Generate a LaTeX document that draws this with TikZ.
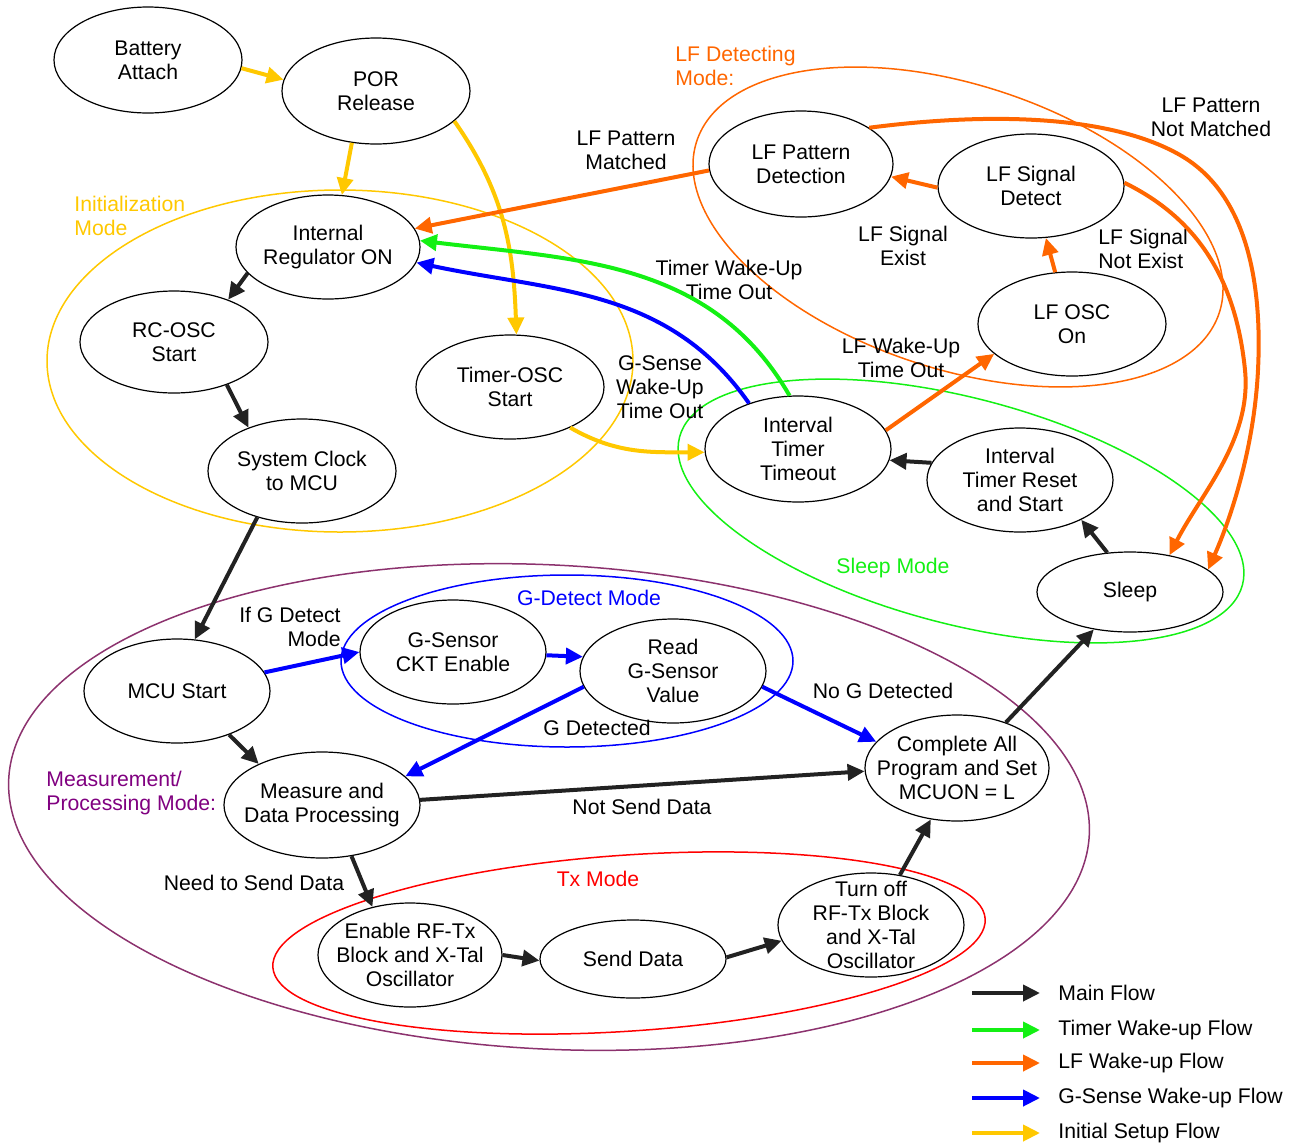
\documentclass[tikz,border=0pt]{standalone}
\usepackage{fontspec}
\setmainfont{Liberation Sans}
\usetikzlibrary{arrows.meta,shapes.geometric}
\definecolor{cY}{RGB}{255,200,0}
\definecolor{cO}{RGB}{255,102,0}
\definecolor{cG}{RGB}{20,240,20}
\definecolor{cB}{RGB}{0,0,255}
\definecolor{cK}{RGB}{34,34,34}
\definecolor{cP}{RGB}{140,50,110}
\definecolor{cPt}{RGB}{128,0,128}
\definecolor{cR}{RGB}{255,0,0}
\begin{document}
\begin{tikzpicture}[x=0.5pt,y=-0.5pt,
  font=\fontsize{10.6}{12}\selectfont,
  st/.style 2 args={draw=black, line width=0.6pt, ellipse, minimum width=#1pt, minimum height=#2pt, inner sep=0pt},
  lb/.style={align=center, inner sep=0pt},
  tl/.style={align=center, inner sep=0pt},
  region/.style={line width=0.75pt},
  ar/.style={line width=2pt, -{Triangle[length=8.5pt,width=8pt]}},
  kar/.style={ar, draw=cK},
  yar/.style={ar, draw=cY},
  oar/.style={ar, draw=cO},
  gar/.style={ar, draw=cG},
  bar/.style={ar, draw=cB}]
\useasboundingbox (0,0) rectangle (1297,1147);

% region ellipses
\draw[region, cY] (340,361) ellipse [x radius=293, y radius=171];
\draw[region, cO, rotate around={-18.2:(958,227)}] (958,227) ellipse [x radius=275, y radius=142];
\draw[region, cG, rotate around={-14.7:(961,511)}] (961,511) ellipse [x radius=291, y radius=113];
\draw[region, cP, rotate around={-3:(549,807)}] (549,807) ellipse [x radius=541, y radius=242];
\draw[region, cB] (567,661) ellipse [x radius=226, y radius=86];
\draw[region, cR, rotate around={3.9:(629,943)}] (629,943) ellipse [x radius=357, y radius=88];

% region labels
\node[tl, cY, align=left, anchor=west] (tinit) at (74,216) {Initialization\\Mode};
\node[tl, cO, align=left, anchor=west] (tlfd) at (675,66) {LF Detecting\\Mode:};
\node[tl, cG] (tsleep) at (893,568) {Sleep Mode};
\node[tl, cB] (tgdet) at (589,598) {G-Detect Mode};
\node[tl, cPt, align=left, anchor=west] (tmeas) at (46,793) {Measurement/\\Processing Mode:};
\node[tl, cR] (ttx) at (598,879) {Tx Mode};

% states
\node[st={94}{53}, label={[lb]center:Battery\\Attach}] (bat) at (148,60) {};
\node[st={94}{53}, label={[lb]center:POR\\Release}] (por) at (376,91) {};
\node[st={92}{52}, label={[lb]center:Internal\\Regulator ON}] (reg) at (328,247) {};
\node[st={94}{51}, label={[lb]center:RC-OSC\\Start}] (rc) at (174,342) {};
\node[st={94}{52}, label={[lb]center:System Clock\\to MCU}] (sys) at (302,471) {};
\node[st={94}{52}, label={[lb]center:Timer-OSC\\Start}] (tosc) at (510,387) {};
\node[st={92}{53}, label={[lb]center:LF Pattern\\Detection}] (lfp) at (801,164) {};
\node[st={93}{52}, label={[lb]center:LF Signal\\Detect}] (lfs) at (1031,186) {};
\node[st={94}{52}, label={[lb]center:LF OSC\\On}] (osc) at (1072,324) {};
\node[st={93}{53}, label={[lb]center:Interval\\Timer\\Timeout}] (itt) at (798,449) {};
\node[st={93}{52}, label={[lb]center:Interval\\Timer Reset\\and Start}] (itr) at (1020,480) {};
\node[st={93}{40}, label={[lb]center:Sleep}] (slp) at (1130,592) {};
\node[st={93}{52}, label={[lb]center:MCU Start}] (mcu) at (177,691) {};
\node[st={93}{52}, label={[lb]center:G-Sensor\\CKT Enable}] (gs) at (453,652) {};
\node[st={93}{52}, label={[lb]center:Read\\G-Sensor\\Value}] (rd) at (673,671) {};
\node[st={98}{53}, label={[lb]center:Measure and\\Data Processing}] (meas) at (322,805) {};
\node[st={92}{53}, label={[lb]center:Complete All\\Program and Set\\MCUON = L}] (comp) at (957,768) {};
\node[st={92}{52}, label={[lb]center:Enable RF-Tx\\Block and X-Tal\\Oscillator}] (en) at (410,955) {};
\node[st={93}{39}, label={[lb]center:Send Data}] (send) at (633,959) {};
\node[st={93}{52}, label={[lb]center:Turn off\\RF-Tx Block\\and X-Tal\\Oscillator}] (toff) at (871,925) {};

% edge labels
\node[tl] (e1) at (626,150) {LF Pattern\\Matched};
\node[tl] (e2) at (1211,117) {LF Pattern\\Not Matched};
\node[tl] (e3) at (903,246) {LF Signal\\Exist};
\node[tl, align=left, anchor=west] (e4) at (1098,249) {LF Signal\\Not Exist};
\node[tl] (e5) at (729,280) {Timer Wake-Up\\Time Out};
\node[tl] (e6) at (901,358) {LF Wake-Up\\Time Out};
\node[tl] (e7) at (660,387) {G-Sense\\Wake-Up\\Time Out};
\node[tl, align=right, anchor=east] (e8) at (341,627) {If G Detect\\Mode};
\node[tl] (e9) at (883,691) {No G Detected};
\node[tl] (e10) at (597,728) {G Detected};
\node[tl] (e11) at (642,807) {Not Send Data};
\node[tl] (e12) at (254,883) {Need to Send Data};

% yellow
\draw[yar] (bat.-5) -- (por.173);
\draw[yar] (por.-115) -- (reg.75);
\draw[yar] (por.-21) to[out=-55,in=92] (tosc.83);
\draw[yar] (tosc.-34) to[out=-30,in=180] (itt.182);

% orange
\draw[oar] (lfp.184) -- (reg.12);
\draw[oar] (lfs.181) -- (lfp.-8);
\draw[oar] (osc.108) -- (lfs.-74);
\draw[oar] (itt.12) -- (osc.201);
\draw[oar] (lfp.28) .. controls (990,112) and (1110,115) .. (1180,155)
  .. controls (1250,195) and (1262,290) .. (1258,370)
  .. controls (1254,450) and (1230,520) .. (slp.16);
\draw[oar] (lfs.2) .. controls (1190,215) and (1235,270) .. (1245,370)
  .. controls (1252,440) and (1200,495) .. (slp.43);

% green / blue wake-up
\draw[gar] (itt.99) to[out=120,in=-7] (reg.4);
\draw[bar] (itt.137) to[out=125,in=-12] (reg.-10);

% blue g-sense
\draw[bar] (mcu.12) -- (gs.180);
\draw[bar] (gs.-2) -- (rd.171);
\draw[bar] (rd.190) -- (meas.19);
\draw[bar] (rd.-10) -- (comp.162);

% black main
\draw[kar] (reg.198) -- (rc.38);
\draw[kar] (rc.-39) -- (sys.141);
\draw[kar] (sys.-134) -- (mcu.71);
\draw[kar] (mcu.-40) -- (meas.147);
\draw[kar] (meas.3) -- (comp.182);
\draw[kar] (meas.-60) -- (en.128);
\draw[kar] (en.0) -- (send.181);
\draw[kar] (send.1) -- (toff.190);
\draw[kar] (toff.60) -- (comp.-117);
\draw[kar] (comp.43) -- (slp.226);
\draw[kar] (slp.120) -- (itr.-33);
\draw[kar] (itr.169) -- (itt.-7);

% legend
\coordinate (la1) at (972,993);  \coordinate (lb1) at (1040,993);
\coordinate (la2) at (972,1030); \coordinate (lb2) at (1040,1030);
\coordinate (la3) at (972,1063); \coordinate (lb3) at (1040,1063);
\coordinate (la4) at (972,1098); \coordinate (lb4) at (1040,1098);
\coordinate (la5) at (972,1133); \coordinate (lb5) at (1040,1133);
\draw[kar] (la1) -- (lb1);
\draw[gar] (la2) -- (lb2);
\draw[oar] (la3) -- (lb3);
\draw[bar] (la4) -- (lb4);
\draw[yar] (la5) -- (lb5);
\node[tl, anchor=west] (lt1) at (1058,993) {Main Flow};
\node[tl, anchor=west] (lt2) at (1058,1030) {Timer Wake-up Flow};
\node[tl, anchor=west] (lt3) at (1058,1063) {LF Wake-up Flow};
\node[tl, anchor=west] (lt4) at (1058,1098) {G-Sense Wake-up Flow};
\node[tl, anchor=west] (lt5) at (1058,1133) {Initial Setup Flow};
\end{tikzpicture}
\end{document}
